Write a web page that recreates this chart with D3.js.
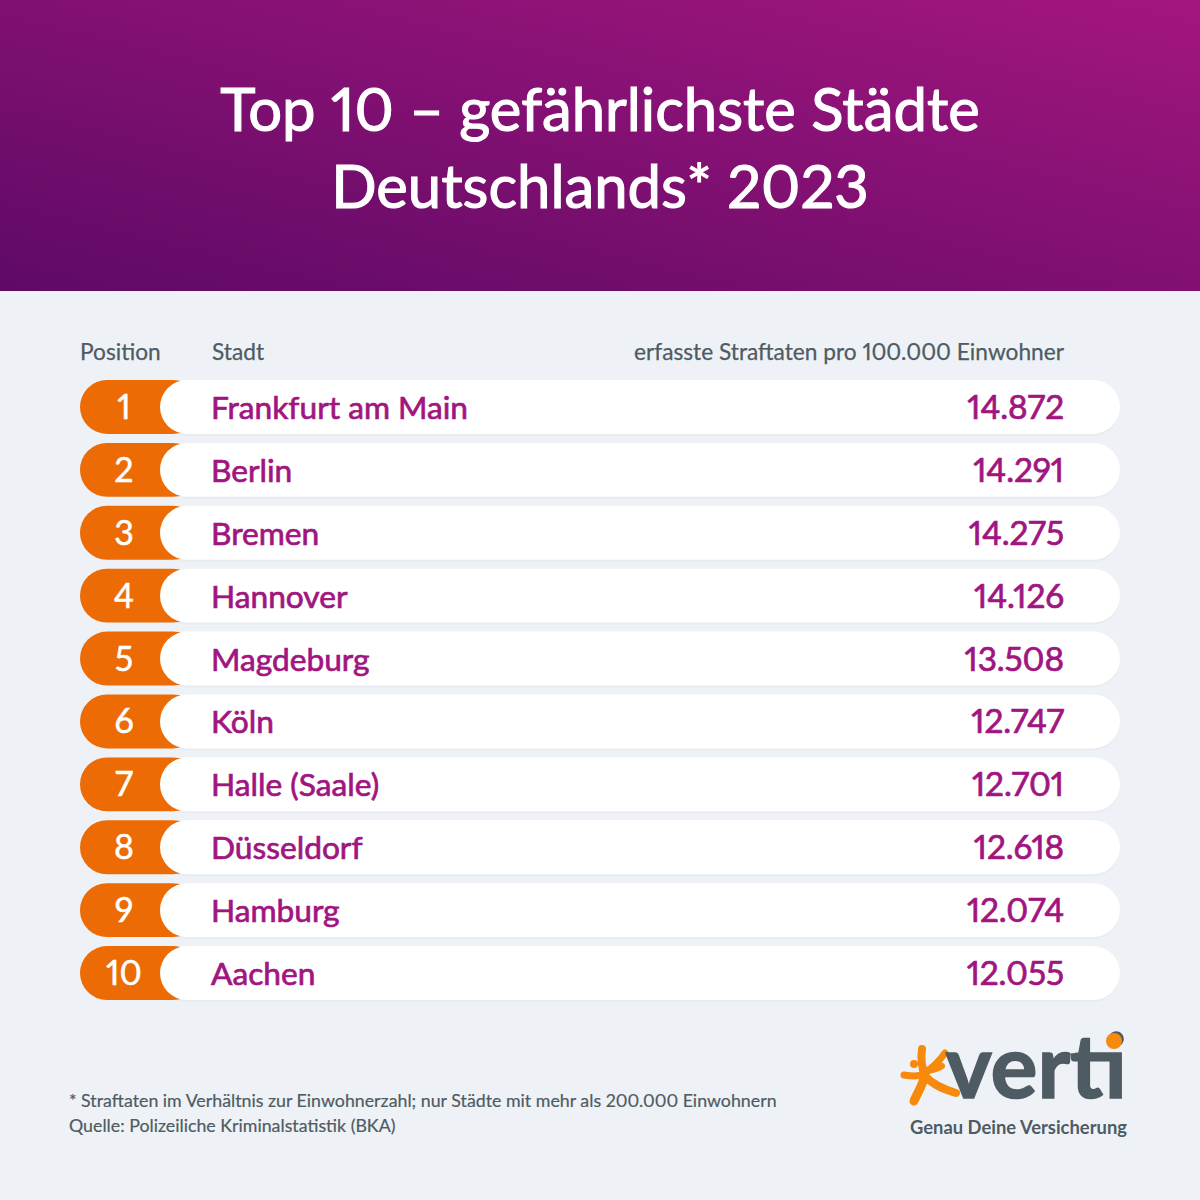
<!DOCTYPE html>
<html>
<head>
<meta charset="utf-8">
<script src="https://cdn.jsdelivr.net/npm/d3@7"></script>
<style>
  html, body { margin: 0; padding: 0; background: #eef2f6; }
  svg { display: block; }
  text { font-family: Lato, "Open Sans", sans-serif; font-variant-numeric: proportional-nums; }
</style>
</head>
<body>
<svg id="chart" width="1200" height="1200"></svg>
<script>
const titleLines = ["Top 10 – gefährlichste Städte", "Deutschlands* 2023"];
const headers = ["Position", "Stadt", "erfasste Straftaten pro 100.000 Einwohner"];
const positions = [1, 2, 3, 4, 5, 6, 7, 8, 9, 10];
const cities = ["Frankfurt am Main", "Berlin", "Bremen", "Hannover", "Magdeburg", "Köln", "Halle (Saale)", "Düsseldorf", "Hamburg", "Aachen"];
const offences = [14872, 14291, 14275, 14126, 13508, 12747, 12701, 12618, 12074, 12055];
const footnotes = ["* Straftaten im Verhältnis zur Einwohnerzahl; nur Städte mit mehr als 200.000 Einwohnern", "Quelle: Polizeiliche Kriminalstatistik (BKA)"];

const purple = "#a0157f";
const orange = "#ec6b05";
const slate = "#4f5b63";

const svg = d3.select("#chart");

// Header gradient
const grad = svg.append("defs").append("linearGradient")
  .attr("id", "head")
  .attr("x1", "0%").attr("y1", "100%")
  .attr("x2", "100%").attr("y2", "0%");
grad.append("stop").attr("offset", "0%").attr("stop-color", "#5e0a65");
grad.append("stop").attr("offset", "100%").attr("stop-color", "#a3167f");

svg.append("rect").attr("width", 1200).attr("height", 1200).attr("fill", "#eef2f6");
svg.append("rect").attr("width", 1200).attr("height", 291).attr("fill", "url(#head)");

svg.selectAll(".title")
  .data(titleLines)
  .enter().append("text")
  .attr("class", "title")
  .attr("x", 600)
  .attr("y", (d, i) => 131 + i * 77)
  .attr("text-anchor", "middle")
  .attr("font-size", 59.8)
  .attr("fill", "#fff")
  .attr("stroke", "#fff")
  .attr("stroke-width", 1.1)
  .text(d => d);

// Column headers
const headerX = [80, 212, 1064];
svg.selectAll(".head")
  .data(headers)
  .enter().append("text")
  .attr("class", "head")
  .attr("x", (d, i) => headerX[i])
  .attr("y", 360)
  .attr("text-anchor", (d, i) => i == 2 ? "end" : "start")
  .attr("font-size", 22.7)
  .attr("fill", slate)
  .attr("stroke", slate)
  .attr("stroke-width", 0.25)
  .text(d => d);

// Rows
const yScale = d3.scaleBand()
  .domain(positions)
  .range([380, 1000])
  .paddingInner(9 / 63);

const fmt = d3.formatLocale({ decimal: ",", thousands: ".", grouping: [3], currency: ["", "€"] }).format(",d");

const rows = svg.selectAll(".row")
  .data(positions)
  .enter().append("g")
  .attr("class", "row")
  .attr("transform", d => `translate(0, ${yScale(d)})`);

const h = yScale.bandwidth();

// faint shadow under each pill
rows.append("rect")
  .attr("x", 160).attr("y", 2).attr("width", 960).attr("height", h)
  .attr("rx", h / 2)
  .attr("fill", "#e8ecf0");

rows.append("rect")
  .attr("x", 80).attr("width", 120).attr("height", h)
  .attr("rx", h / 2)
  .attr("fill", orange);

rows.append("rect")
  .attr("x", 160).attr("width", 960).attr("height", h)
  .attr("rx", h / 2)
  .attr("fill", "#fff");

rows.append("text")
  .attr("x", 124)
  .attr("y", h / 2 + 12)
  .attr("text-anchor", "middle")
  .attr("font-size", 34)
  .attr("fill", "#fff")
  .attr("stroke", "#fff")
  .attr("stroke-width", 0.5)
  .text(d => d);

rows.append("text")
  .attr("x", 211)
  .attr("y", h / 2 + 12)
  .attr("font-size", 31.7)
  .attr("fill", purple)
  .attr("stroke", purple)
  .attr("stroke-width", 0.7)
  .text((d, i) => cities[i]);

rows.append("text")
  .attr("x", 1064)
  .attr("y", h / 2 + 12)
  .attr("text-anchor", "end")
  .attr("font-size", 33.4)
  .attr("letter-spacing", -0.1)
  .attr("fill", purple)
  .attr("stroke", purple)
  .attr("stroke-width", 0.7)
  .text((d, i) => fmt(offences[i]));

// Footnotes
svg.selectAll(".foot")
  .data(footnotes)
  .enter().append("text")
  .attr("class", "foot")
  .attr("x", 69)
  .attr("y", (d, i) => 1107 + i * 25)
  .attr("font-size", 17.8)
  .attr("fill", slate)
  .attr("stroke", slate)
  .attr("stroke-width", 0.2)
  .text(d => d);

// Logo
const logo = svg.append("g").attr("class", "logo");
const splat = [
  { d: "M 925 1076 C 921 1066 921 1056 922 1049", w: 8 },
  { d: "M 925 1072 C 933 1068 940 1060 945 1053", w: 7 },
  { d: "M 926 1072 C 932 1070 938 1069 942 1066", w: 6 },
  { d: "M 925 1074 C 918 1077 910 1076 904 1075", w: 7 },
  { d: "M 925 1076 C 922 1086 917 1094 914 1101", w: 9 },
  { d: "M 925 1076 C 934 1086 946 1090 956 1093", w: 8 }
];
logo.selectAll("path")
  .data(splat)
  .enter().append("path")
  .attr("d", d => d.d)
  .attr("fill", "none")
  .attr("stroke", "#f7890c")
  .attr("stroke-width", d => d.w)
  .attr("stroke-linecap", "round");
logo.append("circle").attr("cx", 914).attr("cy", 1064).attr("r", 4).attr("fill", "#f7890c");
logo.append("text")
  .attr("x", 1127).attr("y", 1098)
  .attr("text-anchor", "end")
  .attr("font-size", 88)
  .attr("font-weight", 700)
  .attr("fill", slate)
  .attr("stroke", slate)
  .attr("stroke-width", 1.5)
  .text("verti");
logo.append("circle").attr("cx", 1114).attr("cy", 1041).attr("r", 8).attr("fill", "#f7890c");
logo.append("text")
  .attr("x", 1127).attr("y", 1134)
  .attr("text-anchor", "end")
  .attr("font-size", 18.4)
  .attr("font-weight", 700)
  .attr("fill", slate)
  .text("Genau Deine Versicherung");
</script>
</body>
</html>
